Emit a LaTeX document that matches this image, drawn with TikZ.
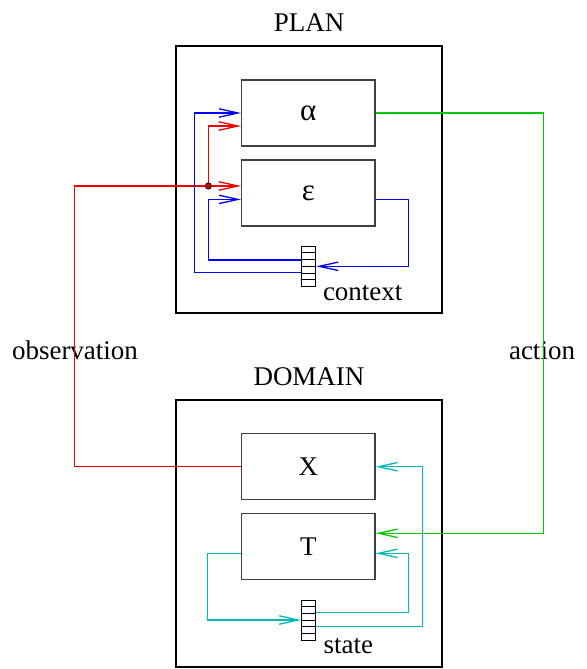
\documentclass[tikz,border=0pt]{standalone}
\usepackage{fontspec}
\setmainfont{Liberation Serif}
\usepackage{xcolor}
\usepackage{tikz}
\usetikzlibrary{arrows.meta,positioning,calc}

\definecolor{obsred}{RGB}{240,0,0}
\definecolor{actgreen}{RGB}{0,200,0}
\definecolor{ctxblue}{RGB}{0,0,255}
\definecolor{stcyan}{RGB}{0,185,185}

\begin{document}
\begin{tikzpicture}[
  x=0.5pt, y=-0.5pt,
  every node/.style={font=\fontsize{13.5pt}{16pt}\selectfont},
  panel/.style={draw, line width=1pt, minimum width=133pt, minimum height=133.5pt},
  func/.style={draw=black!75, line width=0.6pt, minimum width=66.7pt, minimum height=33pt},
  greek/.style={font=\fontsize{15.5pt}{16pt}\selectfont},
  reg/.style={draw, line width=0.5pt, inner sep=0pt, minimum width=7pt, minimum height=#1,
    path picture={
      \foreach \k in {1,...,5}
        \draw[line width=0.5pt] ($(path picture bounding box.south west)!\k/6!(path picture bounding box.north west)$) -- ++(7pt,0);
    }},
  lbl/.style={inner sep=0pt},
  dot/.style={circle, fill=obsred!80!black, draw=black, line width=0.3pt, inner sep=0pt, minimum size=3.2pt},
  arr/.style={-{Straight Barb[length=9.5pt, width=4.2pt]}, line width=0.65pt}
]
  \useasboundingbox (0,0) rectangle (587,669);

  \node[panel] (plan)   at (309,179.5) {};
  \node[panel] (domain) at (309,533.5) {};
  \node[lbl, above=6.5pt of plan]   (plantitle) {PLAN};
  \node[lbl, above=6.5pt of domain] (domtitle)  {DOMAIN};

  \node[func, greek] (alpha) at (308.3,113) {α};
  \node[func, greek] (eps)   at (308.3,193) {ε};
  \node[func] (X)     at (308.3,466.7) {X};
  \node[func] (T)     at (308.3,546.7) {T};

  \node[reg=20.3pt] (ctx)   at (308.7,266.3) {};
  \node[reg=20pt]   (state) at (308.7,620)   {};
  \node[lbl, anchor=base west] (ctxlabel) at ([xshift=3.2pt,yshift=-6.7pt]ctx.south east) {context};
  \node[lbl, anchor=base west] (stlabel)  at ([xshift=3.5pt,yshift=-6.5pt]state.south east) {state};

  \node[lbl, anchor=base] (obslabel) at (75,359.5)  {observation};
  \node[lbl, anchor=base] (actlabel) at (542,359.5) {action};

  \coordinate (obsfork) at ([xshift=-16.3pt,yshift=3.5pt]eps.west);
  \draw[arr, obsred] (X.west) -- ++(-83.3pt,0) |- ([yshift=3.5pt]eps.west);
  \draw[arr, obsred] (obsfork) |- ([yshift=-6.5pt]alpha.west);
  \node[dot] (fork) at (obsfork) {};

  \draw[arr, actgreen] (alpha.east) -- ++(84pt,0) |- ([yshift=6.7pt]T.east);

  \draw[arr, ctxblue] ([yshift=-3.2pt]eps.east) -- ++(16.5pt,0) |- (ctx.east);
  \draw[arr, ctxblue] ([yshift=3.2pt]ctx.west) -- ++(-46.3pt,0) |- ([yshift=-3.2pt]eps.west);
  \draw[arr, ctxblue] ([yshift=-3.2pt]ctx.west) -- ++(-53.3pt,0) |- (alpha.west);

  \draw[arr, stcyan] ([yshift=-3.3pt]T.west) -- ++(-16.7pt,0) |- (state.west);
  \draw[arr, stcyan] ([yshift=3.7pt]state.east) -- ++(46.3pt,0) |- ([yshift=-3.3pt]T.east);
  \draw[arr, stcyan] ([yshift=-3.3pt]state.east) -- ++(53pt,0) |- (X.east);
\end{tikzpicture}
\end{document}
